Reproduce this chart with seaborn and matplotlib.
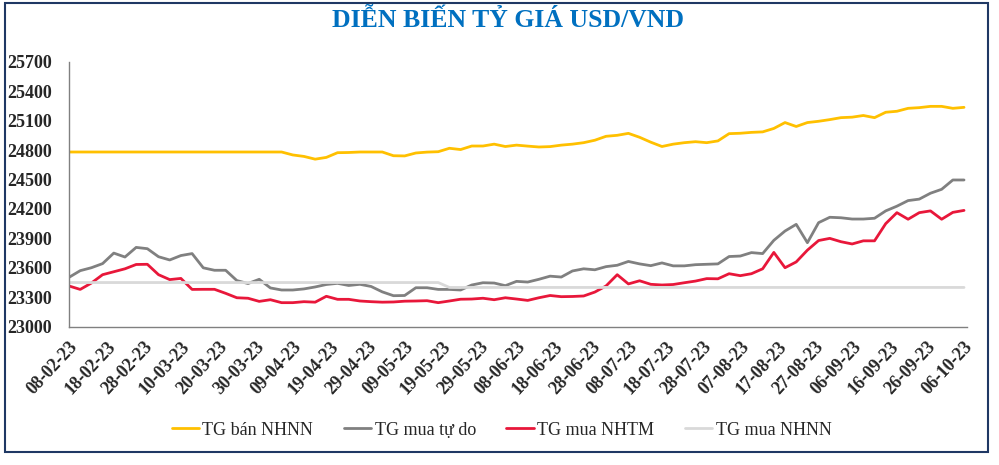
import pandas as pd
import matplotlib
matplotlib.use('Agg')
import matplotlib.pyplot as plt
import matplotlib.dates as mdates
from matplotlib.patches import Rectangle
import seaborn as sns

# dates every 3 days, 08-02-23 .. 06-10-23
dates = pd.date_range('2023-02-08', '2023-10-06', freq='3D')

ban_nhnn = [24780, 24780, 24780, 24780, 24780, 24780, 24780, 24780, 24780, 24780,
            24780, 24780, 24780, 24780, 24780, 24780, 24780, 24780, 24780, 24780,
            24750, 24735, 24707, 24725, 24773, 24775, 24780, 24780, 24780, 24742,
            24740, 24770, 24779, 24783, 24818, 24805, 24841, 24841, 24860, 24836,
            24850, 24840, 24831, 24835, 24850, 24860, 24875, 24900, 24940, 24950,
            24970, 24930, 24880, 24836, 24860, 24875, 24885, 24875, 24893, 24967,
            24971, 24980, 24985, 25020, 25080, 25040, 25080, 25093, 25110, 25130,
            25135, 25152, 25130, 25185, 25195, 25225, 25232, 25245, 25245, 25225,
            25235]

mua_tu_do = [23503, 23571, 23601, 23643, 23750, 23710, 23808, 23795, 23713, 23680,
             23725, 23745, 23600, 23575, 23575, 23470, 23440, 23483, 23395, 23374,
             23374, 23385, 23405, 23430, 23442, 23420, 23432, 23410, 23355, 23316,
             23318, 23397, 23397, 23380, 23380, 23374, 23425, 23448, 23445, 23418,
             23462, 23455, 23483, 23515, 23506, 23568, 23590, 23580, 23612, 23626,
             23665, 23640, 23622, 23650, 23620, 23620, 23632, 23636, 23640, 23715,
             23720, 23755, 23745, 23880, 23975, 24043, 23856, 24060, 24115, 24110,
             24097, 24097, 24105, 24180, 24228, 24285, 24300, 24360, 24400, 24495,
             24495]

mua_nhtm = [23415, 23380, 23445, 23530, 23560, 23590, 23634, 23636, 23530, 23480,
            23492, 23380, 23381, 23381, 23340, 23295, 23290, 23258, 23275, 23245,
            23245, 23255, 23250, 23310, 23279, 23279, 23262, 23255, 23250, 23252,
            23260, 23262, 23265, 23245, 23262, 23280, 23282, 23290, 23275, 23295,
            23282, 23268, 23295, 23318, 23306, 23308, 23313, 23353, 23415, 23530,
            23436, 23468, 23432, 23425, 23430, 23448, 23465, 23490, 23488, 23540,
            23520, 23540, 23590, 23757, 23601, 23660, 23780, 23878, 23900, 23866,
            23843, 23875, 23875, 24050, 24162, 24095, 24162, 24180, 24095, 24165,
            24185]

mua_nhnn = [23450, 23450, 23450, 23450, 23450, 23450, 23450, 23450, 23450, 23450,
            23450, 23450, 23450, 23450, 23450, 23450, 23450, 23450, 23450, 23450,
            23450, 23450, 23450, 23450, 23450, 23450, 23450, 23450, 23450, 23450,
            23450, 23450, 23450, 23450, 23400, 23400, 23400, 23400, 23400, 23400,
            23400, 23400, 23400, 23400, 23400, 23400, 23400, 23400, 23400, 23400,
            23400, 23400, 23400, 23400, 23400, 23400, 23400, 23400, 23400, 23400,
            23400, 23400, 23400, 23400, 23400, 23400, 23400, 23400, 23400, 23400,
            23400, 23400, 23400, 23400, 23400, 23400, 23400, 23400, 23400, 23400,
            23400]

series_names = ['TG bán NHNN', 'TG mua tự do', 'TG mua NHTM', 'TG mua NHNN']
colors = ['#FFC000', '#808080', '#E8173A', '#D9D9D9']

df = pd.concat([
    pd.DataFrame({'date': dates, 'value': vals, 'series': name})
    for name, vals in zip(series_names, [ban_nhnn, mua_tu_do, mua_nhtm, mua_nhnn])
])

sns.set_style('white')
plt.rcParams['font.family'] = ['Liberation Serif', 'DejaVu Serif']

fig = plt.figure(figsize=(9.99, 4.65), dpi=100)
ax = fig.add_axes([0.0691, 0.2974, 0.899, 0.5699])

sns.lineplot(data=df, x='date', y='value', hue='series', hue_order=series_names,
             palette=dict(zip(series_names, colors)), linewidth=2, ax=ax)

ax.set_ylim(23000, 25700)
ax.set_yticks(range(23000, 25701, 300))
ax.set_xlim(pd.Timestamp('2023-02-08'), pd.Timestamp('2023-10-06') + pd.Timedelta(hours=20))
ax.set_xticks(pd.date_range('2023-02-08', '2023-10-06', freq='10D'))
ax.xaxis.set_major_formatter(mdates.DateFormatter('%d-%m-%y'))
ax.set_xlabel('')
ax.set_ylabel('')

for side in ['top', 'right']:
    ax.spines[side].set_visible(False)
for side in ['left', 'bottom']:
    ax.spines[side].set_color('#808080')
    ax.spines[side].set_linewidth(1)

ax.tick_params(axis='y', length=5, color='#808080', pad=7, labelsize=13)
ax.tick_params(axis='x', length=5, color='#808080', pad=3, labelsize=13)
for lbl in ax.get_yticklabels():
    lbl.set_fontweight('bold')
for lbl in ax.get_xticklabels():
    lbl.set_fontweight('bold')
    lbl.set_rotation(47)
    lbl.set_ha('right')
    lbl.set_rotation_mode('anchor')

sns.move_legend(ax, 'center', bbox_to_anchor=(0.502, 0.075), bbox_transform=fig.transFigure,
                ncol=4, frameon=False, title=None, fontsize=13,
                handlelength=1.5, handletextpad=0.2, columnspacing=1.7)

fig.text(0.509, 0.955, 'DIỄN BIẾN TỶ GIÁ USD/VND', ha='center', va='center',
         fontsize=18.5, fontweight='bold', color='#0070C0')

fig.patches.append(Rectangle((5 / 999, 1 - 452 / 465), 983 / 999, 449 / 465,
                             transform=fig.transFigure, fill=False,
                             edgecolor='#1F3864', linewidth=1.5))

fig.savefig('out.png', dpi=100)
